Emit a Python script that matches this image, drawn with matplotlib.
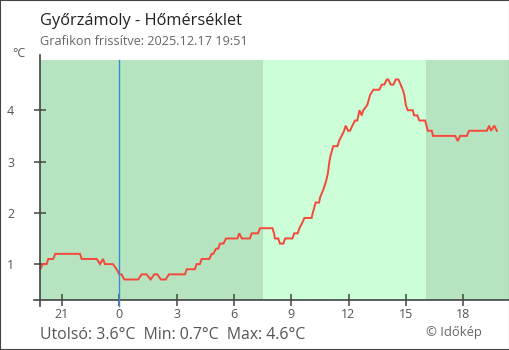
import matplotlib
matplotlib.use("Agg")
import matplotlib.pyplot as plt
from matplotlib.patches import Rectangle

plt.rcParams["font.family"] = ["Open Sans", "DejaVu Sans"]

# hours relative to midnight, temperature in °C
times = [
    -4.14, -4.01, -3.80, -3.72, -3.46, -3.35, -2.06, -1.97, -1.18, -1.01,
    -0.85, -0.75, -0.33, -0.14, 0.00, 0.12, 0.26, 0.99, 1.17, 1.43,
    1.64, 1.83, 1.99, 2.18, 2.43, 2.60, 3.44, 3.53, 3.96, 4.05,
    4.22, 4.31, 4.71, 4.84, 4.92, 5.06, 5.18, 5.27, 5.45, 5.59,
    6.18, 6.28, 6.41, 6.84, 6.93, 7.26, 7.37, 8.02, 8.10, 8.15,
    8.32, 8.41, 8.59, 8.68, 9.06, 9.16, 9.34, 9.43, 9.57, 9.69,
    10.07, 10.13, 10.28, 10.46, 10.51, 10.68, 10.81, 10.91, 11.00, 11.05,
    11.20, 11.43, 11.50, 11.64, 11.77, 11.85, 11.98, 12.08, 12.20, 12.34,
    12.46, 12.57, 12.69, 12.77, 12.98, 13.13, 13.30, 13.61, 13.74, 13.87,
    14.00, 14.08, 14.21, 14.35, 14.47, 14.61, 14.73, 14.84, 14.92, 15.00,
    15.10, 15.36, 15.43, 15.60, 15.71, 16.01, 16.15, 16.36, 16.42, 17.58,
    17.72, 17.84, 18.19, 18.31, 19.24, 19.36, 19.46, 19.63, 19.76,
]
temps = [
    0.9, 1.0, 1.0, 1.1, 1.1, 1.2, 1.2, 1.1, 1.1, 1.0,
    1.1, 1.0, 1.0, 0.9, 0.8, 0.8, 0.7, 0.7, 0.8, 0.8,
    0.7, 0.8, 0.8, 0.7, 0.7, 0.8, 0.8, 0.9, 0.9, 1.0,
    1.0, 1.1, 1.1, 1.2, 1.2, 1.3, 1.3, 1.4, 1.4, 1.5,
    1.5, 1.6, 1.5, 1.5, 1.6, 1.6, 1.7, 1.7, 1.6, 1.5,
    1.5, 1.4, 1.4, 1.5, 1.5, 1.6, 1.6, 1.7, 1.8, 1.9,
    1.9, 2.0, 2.2, 2.2, 2.3, 2.45, 2.6, 2.75, 3.0, 3.1,
    3.3, 3.3, 3.4, 3.5, 3.6, 3.7, 3.6, 3.6, 3.7, 3.8,
    3.8, 4.0, 3.9, 4.0, 4.1, 4.3, 4.4, 4.4, 4.5, 4.5,
    4.6, 4.6, 4.5, 4.5, 4.6, 4.6, 4.5, 4.4, 4.3, 4.1,
    4.0, 4.0, 3.9, 3.9, 3.8, 3.8, 3.6, 3.6, 3.5, 3.5,
    3.4, 3.5, 3.5, 3.6, 3.6, 3.7, 3.6, 3.7, 3.6,
]
tick_hours = [-3, 0, 3, 6, 9, 12, 15, 18]
tick_labels = ["21", "0", "3", "6", "9", "12", "15", "18"]
y_ticks = [1, 2, 3, 4]
sunrise, sunset = 7.52, 16.05

W, H = 510, 350
fig = plt.figure(figsize=(W / 100, H / 100), dpi=100)
fig.patch.set_facecolor("white")
ax = fig.add_axes([40 / W, 50 / H, 469 / W, 240 / H])

x0, x1 = -4.15, 20.4
ax.set_xlim(x0, x1)
ax.set_ylim(0.30, 4.98)

night = "#b7e4c0"
day = "#ccffd8"
ax.axvspan(x0, sunrise, color=night, lw=0, zorder=0)
ax.axvspan(sunrise, sunset, color=day, lw=0, zorder=0)
ax.axvspan(sunset, x1, color=night, lw=0, zorder=0)

ax.plot(times, temps, color="#f4483b", lw=1.4, zorder=3, solid_joinstyle="miter")

for s in ax.spines.values():
    s.set_visible(False)
axc = "#444444"
# axis lines drawn a bit past the plot area
ax.plot([0, 0], [-0.025, 1.021], transform=ax.transAxes, color=axc, lw=1.2, clip_on=False, zorder=4)
ax.plot([-0.0128, 1.0], [0, 0], transform=ax.transAxes, color=axc, lw=1.2, clip_on=False, zorder=4)
# midnight marker
ax.plot([0, 0], [-0.025, 1.0], transform=ax.get_xaxis_transform(), color="#3090cc", lw=1.0, clip_on=False, zorder=5)

ax.set_xticks(tick_hours)
ax.set_xticklabels(tick_labels)
ax.set_yticks(y_ticks)
ax.tick_params(axis="both", direction="inout", length=9, width=1.1, color=axc,
               labelsize=9, labelcolor="#555555")
ax.tick_params(axis="x", pad=1.5)
ax.tick_params(axis="y", pad=14)

fig.text(12 / W, 1 - 57 / H, "°C", fontsize=9, color="#555555", va="baseline")
fig.text(40 / W, 1 - 25 / H, "Győrzámoly - Hőmérséklet", fontsize=11.8, color="#222222", va="baseline")
fig.text(40 / W, 1 - 45 / H, "Grafikon frissítve: 2025.12.17 19:51", fontsize=9.1, color="#666666", va="baseline")

stats = f"Utolsó: {temps[-1]:.1f}°C  Min: {min(temps):.1f}°C  Max: {max(temps):.1f}°C"
fig.text(40 / W, 1 - 339 / H, stats, fontsize=11.4, color="#555555", va="baseline")
fig.text(482 / W, 1 - 336 / H, "© Időkép", fontsize=9.4, color="#666666", va="baseline", ha="right")

fig.patches.append(Rectangle((0, 0), 1, 1, transform=fig.transFigure, fill=False,
                             edgecolor="#444444", lw=1.5))

fig.savefig("out.png", dpi=100)
